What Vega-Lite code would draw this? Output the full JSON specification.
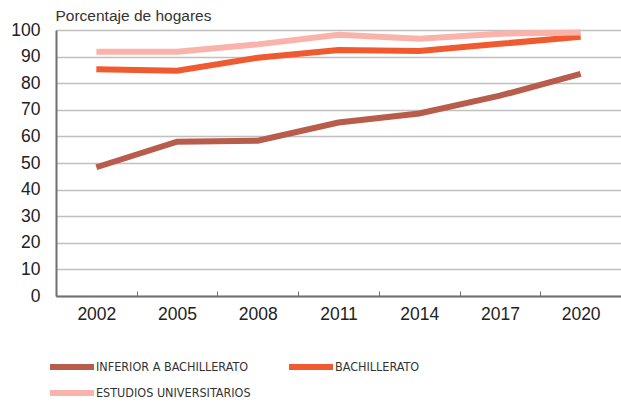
{
  "$schema": "https://vega.github.io/schema/vega-lite/v6.json",
  "width": 565,
  "height": 266,
  "autosize": {"type": "none"},
  "padding": {"left": 56, "top": 30, "right": 0, "bottom": 107},
  "background": "white",
  "config": {
    "view": {"stroke": null},
    "font": "Liberation Sans"
  },
  "data": {
    "values": [
      {"year": "2002", "serie": "INFERIOR A BACHILLERATO", "value": 48.4},
      {"year": "2005", "serie": "INFERIOR A BACHILLERATO", "value": 58.0},
      {"year": "2008", "serie": "INFERIOR A BACHILLERATO", "value": 58.4},
      {"year": "2011", "serie": "INFERIOR A BACHILLERATO", "value": 65.2},
      {"year": "2014", "serie": "INFERIOR A BACHILLERATO", "value": 68.6},
      {"year": "2017", "serie": "INFERIOR A BACHILLERATO", "value": 75.3},
      {"year": "2020", "serie": "INFERIOR A BACHILLERATO", "value": 83.5},
      {"year": "2002", "serie": "BACHILLERATO", "value": 85.2},
      {"year": "2005", "serie": "BACHILLERATO", "value": 84.7},
      {"year": "2008", "serie": "BACHILLERATO", "value": 89.6},
      {"year": "2011", "serie": "BACHILLERATO", "value": 92.5},
      {"year": "2014", "serie": "BACHILLERATO", "value": 92.1},
      {"year": "2017", "serie": "BACHILLERATO", "value": 94.8},
      {"year": "2020", "serie": "BACHILLERATO", "value": 97.5},
      {"year": "2002", "serie": "ESTUDIOS UNIVERSITARIOS", "value": 91.8},
      {"year": "2005", "serie": "ESTUDIOS UNIVERSITARIOS", "value": 91.8},
      {"year": "2008", "serie": "ESTUDIOS UNIVERSITARIOS", "value": 94.6},
      {"year": "2011", "serie": "ESTUDIOS UNIVERSITARIOS", "value": 98.2},
      {"year": "2014", "serie": "ESTUDIOS UNIVERSITARIOS", "value": 96.7},
      {"year": "2017", "serie": "ESTUDIOS UNIVERSITARIOS", "value": 98.6},
      {"year": "2020", "serie": "ESTUDIOS UNIVERSITARIOS", "value": 99.1}
    ]
  },
  "mark": {"type": "line", "strokeWidth": 6, "strokeCap": "butt", "strokeJoin": "miter"},
  "encoding": {
    "x": {
      "field": "year",
      "type": "ordinal",
      "scale": {"type": "band", "paddingInner": 0, "paddingOuter": 0},
      "axis": {
        "title": null,
        "labelAngle": 0,
        "labelFontSize": 17.5,
        "labelColor": "#222222",
        "labelPadding": 14,
        "domainColor": "#707070",
        "domainWidth": 2,
        "tickColor": "#707070",
        "tickWidth": 1,
        "tickSize": -5,
        "tickBand": "extent",
        "grid": false
      }
    },
    "y": {
      "field": "value",
      "type": "quantitative",
      "scale": {"domain": [0, 100], "nice": false},
      "axis": {
        "values": [0, 10, 20, 30, 40, 50, 60, 70, 80, 90, 100],
        "title": "Porcentaje de hogares",
        "titleAngle": 0,
        "titleAlign": "left",
        "titleBaseline": "bottom",
        "titleX": -1,
        "titleY": -7,
        "titleFontSize": 15.5,
        "titleFontWeight": "normal",
        "titleColor": "#333333",
        "labelFontSize": 17.5,
        "labelColor": "#222222",
        "labelPadding": 16,
        "ticks": false,
        "domainColor": "#707070",
        "domainWidth": 2,
        "grid": true,
        "gridColor": "#c0c0c0",
        "gridWidth": 1.5
      }
    },
    "color": {
      "field": "serie",
      "type": "nominal",
      "sort": ["INFERIOR A BACHILLERATO", "BACHILLERATO", "ESTUDIOS UNIVERSITARIOS"],
      "scale": {
        "domain": ["INFERIOR A BACHILLERATO", "BACHILLERATO", "ESTUDIOS UNIVERSITARIOS"],
        "range": ["#b85c4c", "#f05a30", "#f9b3ab"]
      },
      "legend": {
        "title": null,
        "orient": "none",
        "legendX": 2,
        "legendY": 323,
        "columns": 2,
        "direction": "horizontal",
        "symbolType": "M-2,0H2",
        "symbolSize": 484,
        "symbolStrokeWidth": 6,
        "labelFont": "DejaVu Sans Condensed",
        "labelFontSize": 12.5,
        "labelColor": "#333333",
        "labelOffset": 10,
        "columnPadding": 26,
        "rowPadding": 0,
        "labelLimit": 300
      }
    }
  }
}
